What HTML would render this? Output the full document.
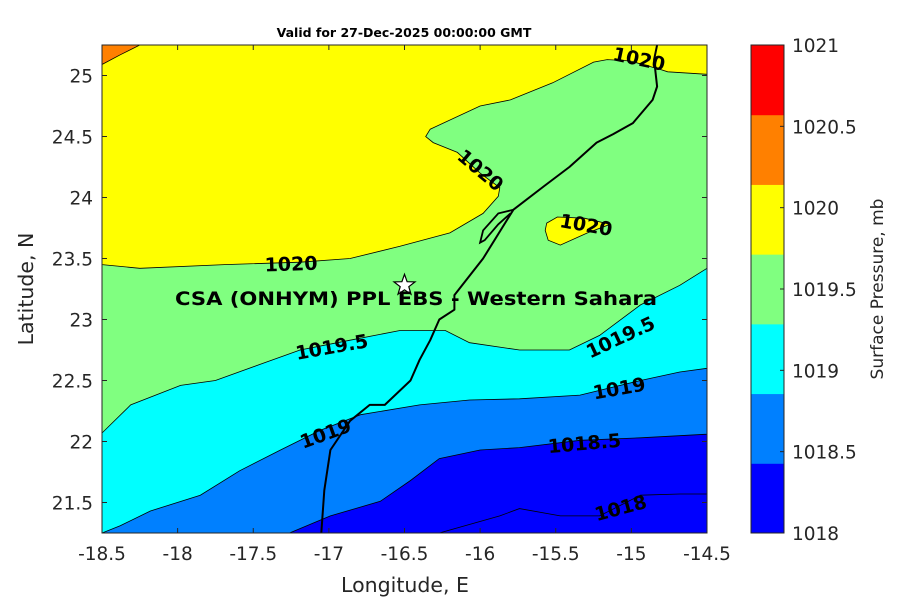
<!DOCTYPE html>
<html><head><meta charset="utf-8"><style>
body{margin:0;background:#fff;}
svg{display:block;font-family:"DejaVu Sans","Liberation Sans",sans-serif;}
</style></head><body>
<svg id="chart" width="900" height="600" xmlns="http://www.w3.org/2000/svg"></svg>
<script>
const xTicks=[-18.5,-18,-17.5,-17,-16.5,-16,-15.5,-15,-14.5];
const xTickLabels=["-18.5","-18","-17.5","-17","-16.5","-16","-15.5","-15","-14.5"];
const yTicks=[21.5,22,22.5,23,23.5,24,24.5,25];
const yTickLabels=["21.5","22","22.5","23","23.5","24","24.5","25"];
const levels=[1018,1018.5,1019,1019.5,1020,1020.5,1021];
const levelLabels=["1018","1018.5","1019","1019.5","1020","1020.5","1021"];
const levelColors=["#0000ff","#0080ff","#00ffff","#80ff80","#ffff00","#ff8000","#ff0000"];
const c1020_5=[[-18.5,25.09],[-18.38,25.17],[-18.25,25.25]];
const c1020=[[-18.5,23.45],[-18.25,23.42],[-17.69,23.45],[-17.19,23.47],[-16.86,23.50],[-16.53,23.60],[-16.20,23.71],[-15.98,23.87],[-15.88,24.01],[-15.87,24.08],[-16.00,24.20],[-16.15,24.37],[-16.31,24.45],[-16.36,24.50],[-16.33,24.56],[-16.00,24.75],[-15.80,24.80],[-15.52,24.94],[-15.25,25.11],[-15.16,25.13],[-15.01,25.12],[-14.81,25.05],[-14.76,25.03],[-14.5,25.01]];
const c1020island=[[-15.56,23.79],[-15.49,23.84],[-15.31,23.83],[-15.14,23.78],[-15.29,23.71],[-15.47,23.61],[-15.55,23.65],[-15.57,23.73]];
const c1019_5=[[-18.5,22.07],[-18.31,22.30],[-17.98,22.46],[-17.75,22.50],[-17.46,22.63],[-17.19,22.75],[-16.86,22.83],[-16.53,22.91],[-16.23,22.91],[-16.07,22.81],[-15.74,22.75],[-15.41,22.75],[-15.21,22.87],[-14.94,23.12],[-14.68,23.28],[-14.5,23.42]];
const c1019=[[-18.5,21.25],[-18.38,21.31],[-18.18,21.43],[-17.85,21.56],[-17.59,21.76],[-17.32,21.93],[-17.06,22.09],[-16.79,22.22],[-16.40,22.30],[-16.07,22.34],[-15.74,22.35],[-15.34,22.38],[-14.94,22.50],[-14.68,22.57],[-14.5,22.60]];
const c1018_5=[[-17.26,21.25],[-16.99,21.39],[-16.66,21.51],[-16.46,21.68],[-16.27,21.86],[-16.00,21.93],[-15.74,21.95],[-15.34,22.01],[-14.94,22.03],[-14.5,22.06]];
const c1018=[[-16.27,21.25],[-15.87,21.39],[-15.74,21.45],[-15.47,21.39],[-15.21,21.39],[-14.94,21.56],[-14.68,21.57],[-14.5,21.57]];
const coast=[[-17.05,21.25],[-17.03,21.60],[-16.99,21.93],[-16.86,22.17],[-16.73,22.30],[-16.63,22.30],[-16.46,22.50],[-16.40,22.67],[-16.33,22.83],[-16.27,23.00],[-16.17,23.08],[-16.17,23.20],[-15.98,23.50],[-15.78,23.90],[-15.58,24.09],[-15.41,24.25],[-15.23,24.45],[-15.12,24.52],[-14.99,24.61],[-14.86,24.80],[-14.83,24.91],[-14.85,25.13],[-14.83,25.25]];
const peninsula=[[-15.78,23.90],[-15.88,23.87],[-15.98,23.73],[-16.00,23.63],[-15.97,23.65],[-15.88,23.78],[-15.80,23.87]];
const contourLabels=[["1020",-17.25,23.45,-2],["1020",-16.0,24.22,40],["1020",-14.95,25.13,12],["1020",-15.3,23.77,10],["1019.5",-16.98,22.77,-10],["1019.5",-15.07,22.85,-25],["1019",-15.08,22.43,-10],["1019",-17.02,22.06,-20],["1018.5",-15.31,21.98,-5],["1018",-15.07,21.45,-15]];
const station=[-16.5,23.28];

const L=102,R=707,T=45,B=533;
const X=v=>L+(v+18.5)/4*(R-L);
const Y=v=>B-(v-21.25)/4*(B-T);
const NS="http://www.w3.org/2000/svg";
const svg=document.getElementById('chart');
function el(t,a,p){const e=document.createElementNS(NS,t);for(const k in a)e.setAttribute(k,a[k]);(p||svg).appendChild(e);return e;}
const pts=arr=>arr.map(p=>X(p[0]).toFixed(1)+","+Y(p[1]).toFixed(1)).join(" ");
const TR=X(-14.5)+","+Y(25.25), TL=X(-18.5)+","+Y(25.25), BL=X(-18.5)+","+Y(21.25);

const cpp=el('clipPath',{id:'pc'});
el('rect',{x:L,y:T,width:R-L,height:B-T},cpp);
const g=el('g',{'clip-path':'url(#pc)'});

let r=el('rect',{x:L,y:T,width:R-L,height:B-T,fill:levelColors[0]},g);

const fills=[[c1018_5,levelColors[1],true,'region-1018-5'],[c1019,levelColors[2],false,'region-1019'],[c1019_5,levelColors[3],false,'region-1019-5'],[c1020,levelColors[4],false,'region-1020']];
fills.forEach(f=>{let p=el('polygon',{points:pts(f[0])+" "+TR+" "+TL+(f[2]?" "+BL:""),fill:f[1],stroke:'#000','stroke-width':0.8},g);
});
let isl=el('polygon',{points:pts(c1020island),fill:levelColors[4],stroke:'#000','stroke-width':0.8},g);

let orp=el('polygon',{points:pts(c1020_5)+" "+TL,fill:levelColors[5],stroke:'#000','stroke-width':0.8},g);

let l18=el('polyline',{points:pts(c1018),fill:'none',stroke:'#000','stroke-width':0.8},g);

let cl=el('polyline',{points:pts(coast),fill:'none',stroke:'#000','stroke-width':2,'stroke-linejoin':'round'},g);

let pn=el('polyline',{points:pts(peninsula),fill:'none',stroke:'#000','stroke-width':1.8},g);


contourLabels.forEach(c=>{const x=X(c[1]),y=Y(c[2]);
let t=el('text',{x:x,y:y,'font-size':19,'font-weight':'bold','text-anchor':'middle','dominant-baseline':'central',transform:`rotate(${c[3]} ${x} ${y})`});
t.textContent=c[0];
});

(function(){const cx=X(station[0]),cy=Y(station[1]);let s=[];for(let i=0;i<10;i++){const a=-Math.PI/2+i*Math.PI/5,rr=i%2?4.5:11;s.push((cx+rr*Math.cos(a)).toFixed(1)+","+(cy+rr*Math.sin(a)).toFixed(1));}
let st=el('polygon',{points:s.join(" "),fill:'#fff',stroke:'#000','stroke-width':1.2});

let sl=el('text',{x:416,y:305,'font-size':19,'font-weight':'bold','text-anchor':'middle',textLength:482,lengthAdjust:'spacingAndGlyphs'});
sl.textContent='CSA (ONHYM) PPL EBS - Western Sahara';
})();

let fr=el('rect',{x:L,y:T,width:R-L,height:B-T,fill:'none',stroke:'#262626','stroke-width':1});

xTicks.forEach((v,i)=>{const x=X(v);el('line',{x1:x,x2:x,y1:B,y2:B-5,stroke:'#262626'});el('line',{x1:x,x2:x,y1:T,y2:T+5,stroke:'#262626'});
let t=el('text',{x:x,y:560,'font-size':18.5,'text-anchor':'middle',fill:'#262626'});t.textContent=xTickLabels[i];
});
yTicks.forEach((v,i)=>{const y=Y(v);el('line',{x1:L,x2:L+5,y1:y,y2:y,stroke:'#262626'});el('line',{x1:R,x2:R-5,y1:y,y2:y,stroke:'#262626'});
let t=el('text',{x:93,y:y+7,'font-size':18.5,'text-anchor':'end',fill:'#262626'});t.textContent=yTickLabels[i];
});
let xt=el('text',{x:405,y:592,'font-size':20.5,'text-anchor':'middle',fill:'#262626'});xt.textContent='Longitude, E';

let yt=el('text',{x:33,y:289,'font-size':20.5,'text-anchor':'middle',fill:'#262626',transform:'rotate(-90 33 289)'});yt.textContent='Latitude, N';

let ti=el('text',{x:404,y:37,'font-size':12.5,'font-weight':'bold','text-anchor':'middle'});ti.textContent='Valid for 27-Dec-2025 00:00:00 GMT';


const CL=751,CR=784,CY=v=>B-(v-1018)/3*(B-T);
const nb=levelColors.length, bh=(B-T)/nb;
levelColors.forEach((c,i)=>{let b=el('rect',{x:CL,y:B-(i+1)*bh,width:CR-CL,height:bh+0.5,fill:c});
});
let cf=el('rect',{x:CL,y:T,width:CR-CL,height:B-T,fill:'none',stroke:'#262626'});

levels.forEach((v,i)=>{const y=CY(v);el('line',{x1:CR-4,x2:CR,y1:y,y2:y,stroke:'#262626'});
let t=el('text',{x:792,y:y+7,'font-size':18.5,fill:'#262626'});t.textContent=levelLabels[i];
});
let ct=el('text',{x:883,y:289,'font-size':17,'text-anchor':'middle',fill:'#262626',transform:'rotate(-90 883 289)'});ct.textContent='Surface Pressure, mb';

</script>
</body></html>
